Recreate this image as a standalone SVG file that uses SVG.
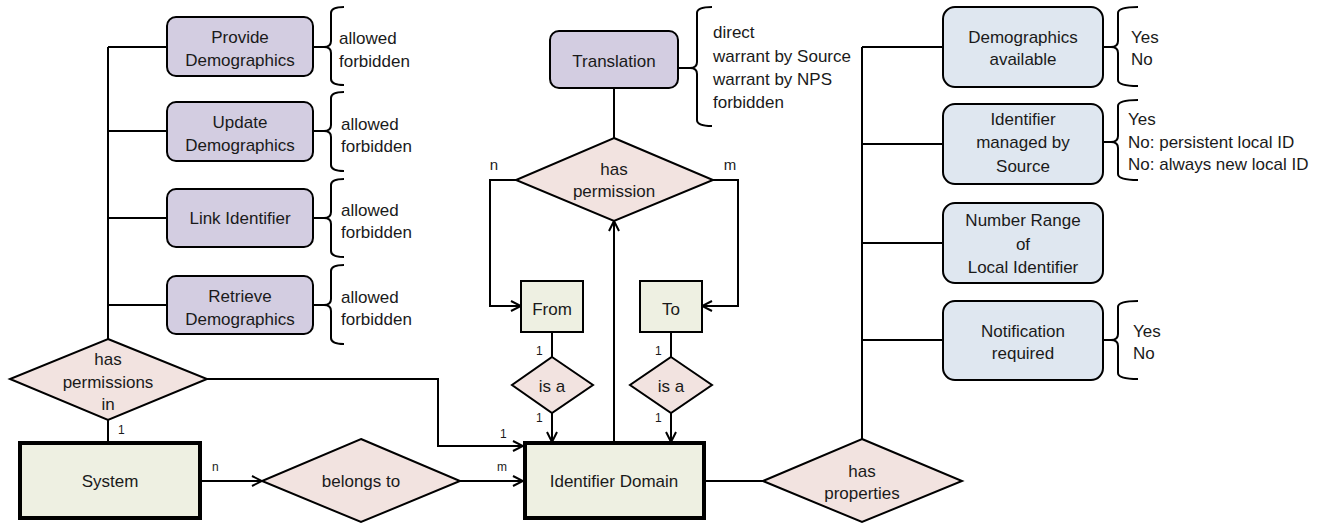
<svg xmlns="http://www.w3.org/2000/svg" width="1334" height="525" viewBox="0 0 1334 525">
<defs>
<marker id="arr" viewBox="0 0 12 12" refX="11" refY="6" markerWidth="12" markerHeight="12" markerUnits="userSpaceOnUse" orient="auto">
<path d="M1,1 L11,6 L1,11" fill="none" stroke="#000" stroke-width="2"/>
</marker>
<style>
text{font-family:"Liberation Sans",Arial,sans-serif;font-size:17px;fill:#1a1a1a}
.c{text-anchor:middle}
.s{font-size:12px}
.ln{fill:none;stroke:#000;stroke-width:2}
.ar{fill:none;stroke:#000;stroke-width:2;marker-end:url(#arr)}
.br{fill:none;stroke:#000;stroke-width:2}
.perm{fill:#d3cde1;stroke:#000;stroke-width:2}
.prop{fill:#dfe7f0;stroke:#000;stroke-width:2}
.rel{fill:#f2e3e0;stroke:#000;stroke-width:2}
.ent{fill:#eef0e2;stroke:#000;stroke-width:4}
.ent2{fill:#eef0e2;stroke:#000;stroke-width:2}
</style>
</defs>
<rect width="1334" height="525" fill="#fff"/>
<g id="connectors">
<path class="ln" d="M108,47 V339 M108,47 H167 M108,131 H167 M108,218 H167 M108,305 H167"/>
<path class="ln" d="M108,420 V441"/>
<path class="ar" d="M200,481 H262"/>
<path class="ar" d="M460,481 H523"/>
<path class="ar" d="M207,379 H438 V446 H523"/>
<path class="ln" d="M704,481 H763"/>
<path class="ln" d="M862,439 V47 M862,47 H943 M862,144 H943 M862,243 H943 M862,340 H943"/>
<path class="ln" d="M614,88 V138"/>
<path class="ar" d="M516,180 H490 V306 H521"/>
<path class="ar" d="M713,180 H738 V306 H702"/>
<path class="ln" d="M552,332 V357"/>
<path class="ln" d="M671,332 V357"/>
<path class="ar" d="M552,413 V442"/>
<path class="ar" d="M671,413 V442"/>
<path class="ar" d="M614,442 V221"/>
<text class="s" x="118" y="434">1</text>
<text class="s" x="212" y="471">n</text>
<text class="s" x="497" y="471">m</text>
<text class="s" x="500" y="438">1</text>
<text x="494" y="170" class="c" style="font-size:15px">n</text>
<text x="730" y="170" class="c" style="font-size:15px">m</text>
<text class="s" x="536" y="355">1</text>
<text class="s" x="536" y="422">1</text>
<text class="s" x="655" y="355">1</text>
<text class="s" x="655" y="422">1</text>
</g>
<g id="provide-demographics">
<rect class="perm" x="167" y="17" width="146" height="59" rx="9"/>
<text class="c" x="240" y="43">Provide</text>
<text class="c" x="240" y="66">Demographics</text>
<path class="br" d="M313,47 H324 M344,7 Q331,7 331,13 V41 Q331,47 324,47 Q331,47 331,53 V79 Q331,85 344,85"/>
<text x="339" y="44">allowed</text>
<text x="339" y="67">forbidden</text>
</g>
<g id="update-demographics">
<rect class="perm" x="167" y="102" width="146" height="59" rx="9"/>
<text class="c" x="240" y="128">Update</text>
<text class="c" x="240" y="151">Demographics</text>
<path class="br" d="M313,131 H324 M344,92 Q331,92 331,98 V125 Q331,131 324,131 Q331,131 331,137 V165 Q331,171 344,171"/>
<text x="341" y="130">allowed</text>
<text x="341" y="152">forbidden</text>
</g>
<g id="link-identifier">
<rect class="perm" x="167" y="189" width="146" height="58" rx="9"/>
<text class="c" x="240" y="224">Link Identifier</text>
<path class="br" d="M313,218 H324 M344,179 Q331,179 331,185 V212 Q331,218 324,218 Q331,218 331,224 V251 Q331,257 344,257"/>
<text x="341" y="216">allowed</text>
<text x="341" y="238">forbidden</text>
</g>
<g id="retrieve-demographics">
<rect class="perm" x="167" y="276" width="146" height="58" rx="9"/>
<text class="c" x="240" y="302">Retrieve</text>
<text class="c" x="240" y="325">Demographics</text>
<path class="br" d="M313,305 H324 M344,265 Q331,265 331,271 V299 Q331,305 324,305 Q331,305 331,311 V338 Q331,344 344,344"/>
<text x="341" y="303">allowed</text>
<text x="341" y="325">forbidden</text>
</g>
<g id="has-permissions-in">
<polygon class="rel" points="108,339 207,379 108,420 10,379"/>
<text class="c" x="108" y="365">has</text>
<text class="c" x="108" y="388">permissions</text>
<text class="c" x="108" y="410">in</text>
</g>
<g id="system">
<rect class="ent" x="20" y="443" width="180" height="75"/>
<text class="c" x="110" y="487">System</text>
</g>
<g id="belongs-to">
<polygon class="rel" points="361,439 460,481 361,522 262,481"/>
<text class="c" x="361" y="487">belongs to</text>
</g>
<g id="identifier-domain">
<rect class="ent" x="525" y="443" width="179" height="75"/>
<text class="c" x="614" y="487">Identifier Domain</text>
</g>
<g id="translation">
<rect class="perm" x="550" y="31" width="128" height="57" rx="9"/>
<text class="c" x="614" y="67">Translation</text>
<path class="br" d="M678,68 H690 M712,7 Q697,7 697,13 V62 Q697,68 690,68 Q697,68 697,74 V120 Q697,126 712,126"/>
<text x="713" y="38">direct</text>
<text x="713" y="62">warrant by Source</text>
<text x="713" y="85">warrant by NPS</text>
<text x="713" y="108">forbidden</text>
</g>
<g id="has-permission">
<polygon class="rel" points="614,138 713,180 614,221 516,180"/>
<text class="c" x="614" y="175">has</text>
<text class="c" x="614" y="197">permission</text>
</g>
<g id="from">
<rect class="ent2" x="521" y="281" width="62" height="51"/>
<text class="c" x="552" y="315">From</text>
</g>
<g id="to">
<rect class="ent2" x="640" y="281" width="62" height="51"/>
<text class="c" x="671" y="315">To</text>
</g>
<g id="is-a-from">
<polygon class="rel" points="552,357 593,385 552,413 512,385"/>
<text class="c" x="552" y="392">is a</text>
</g>
<g id="is-a-to">
<polygon class="rel" points="671,357 712,385 671,413 630,385"/>
<text class="c" x="671" y="392">is a</text>
</g>
<g id="has-properties">
<polygon class="rel" points="862,439 962,481 862,522 763,481"/>
<text class="c" x="862" y="477">has</text>
<text class="c" x="862" y="499">properties</text>
</g>
<g id="demographics-available">
<rect class="prop" x="943" y="7" width="160" height="80" rx="12"/>
<text class="c" x="1023" y="43">Demographics</text>
<text class="c" x="1023" y="65">available</text>
<path class="br" d="M1103,47 H1111 M1138,7 Q1118,7 1118,13 V41 Q1118,47 1111,47 Q1118,47 1118,53 V80 Q1118,86 1138,86"/>
<text x="1131" y="43">Yes</text>
<text x="1131" y="65">No</text>
</g>
<g id="identifier-managed">
<rect class="prop" x="943" y="104" width="160" height="80" rx="12"/>
<text class="c" x="1023" y="125">Identifier</text>
<text class="c" x="1023" y="148">managed by</text>
<text class="c" x="1023" y="172">Source</text>
<path class="br" d="M1103,142 H1111 M1138,100 Q1118,100 1118,106 V136 Q1118,142 1111,142 Q1118,142 1118,148 V174 Q1118,180 1138,180"/>
<text x="1128" y="125">Yes</text>
<text x="1128" y="148">No: persistent local ID</text>
<text x="1128" y="170">No: always new local ID</text>
</g>
<g id="number-range">
<rect class="prop" x="943" y="203" width="160" height="80" rx="12"/>
<text class="c" x="1023" y="226">Number Range</text>
<text class="c" x="1023" y="250">of</text>
<text class="c" x="1023" y="273">Local Identifier</text>
</g>
<g id="notification-required">
<rect class="prop" x="943" y="301" width="160" height="79" rx="12"/>
<text class="c" x="1023" y="337">Notification</text>
<text class="c" x="1023" y="359">required</text>
<path class="br" d="M1103,340 H1111 M1138,301 Q1118,301 1118,307 V334 Q1118,340 1111,340 Q1118,340 1118,346 V373 Q1118,379 1138,379"/>
<text x="1133" y="337">Yes</text>
<text x="1133" y="359">No</text>
</g>
</svg>
